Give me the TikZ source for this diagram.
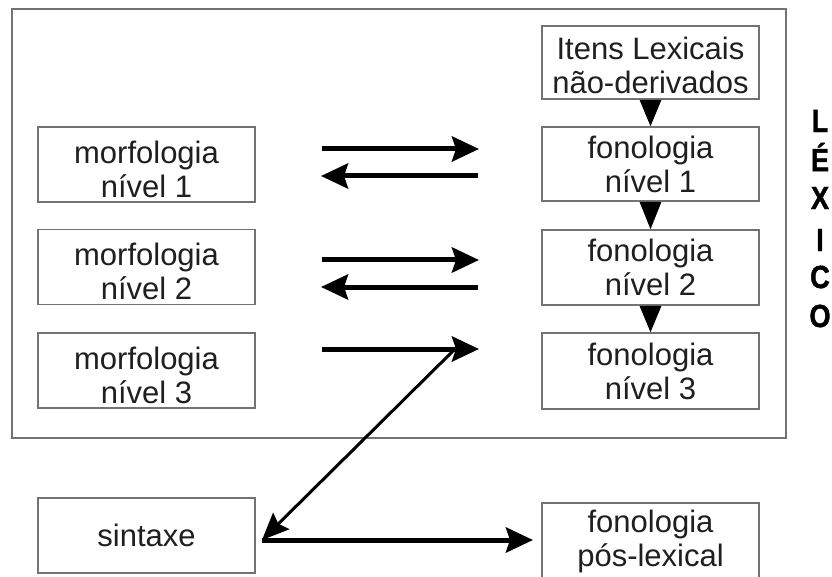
\documentclass[tikz,border=0pt]{standalone}
\usepackage{fontspec}
\setmainfont{Liberation Sans}
\newfontfamily\lexfam[BoldFeatures={FakeBold=1.5}]{Liberation Sans}
\usetikzlibrary{arrows.meta}
\newcommand{\boxfont}{\fontsize{31}{34}\selectfont}
\newcommand{\lexfont}{\lexfam\fontsize{32}{33}\selectfont\bfseries}
\newcommand{\lowstrut}{\rule{0pt}{32pt}}
\newcommand{\lexletter}[1]{\scalebox{0.85}[1]{\lexfont #1}}
\begin{document}
\begin{tikzpicture}[x=1pt,y=-1pt,
  box/.style={draw=black!55, line width=1.6pt, minimum width=217pt,
    minimum height=75pt, inner sep=0pt, align=center, font=\boxfont, text=black!88},
  frame/.style={draw=black!55, line width=1.6pt, minimum width=774pt,
    minimum height=429pt, inner sep=0pt},
  letter/.style={font=\lexfont, text=black, inner sep=0pt},
  thick arrow/.style={line width=5pt, -{Stealth[length=27pt,width=25pt,inset=4pt]}},
  thin arrow/.style={line width=3pt, -{Stealth[length=27pt,width=23pt,inset=4pt]}},
  tri/.style={fill=black}]
\useasboundingbox (0,0) rectangle (832,577);
\fill[white] (0,0) rectangle (832,577);
% frame of the lexicon
\node[frame] (lex) at (399,223.5) {};
% boxes
\node[box] (m1) at (146.5,164.5) {\lowstrut morfologia\\nível 1};
\node[box] (m2) at (146.5,267) {\lowstrut morfologia\\nível 2};
\node[box] (m3) at (146.5,370.5) {\lowstrut morfologia\\nível 3};
\node[box, minimum height=73pt] (it) at (650.5,62.5) {\rule{0pt}{29pt}Itens Lexicais\\não-derivados};
\node[box, minimum height=74pt] (f1) at (650.5,164) {fonologia\\nível 1};
\node[box] (f2) at (650.5,267.5) {fonologia\\nível 2};
\node[box, minimum height=76pt] (f3) at (650.5,371) {fonologia\\nível 3};
\node[box, minimum height=75pt] (sint) at (146.5,535.5) {sintaxe};
\node[box, minimum height=76pt] (pos) at (650.5,541) {fonologia\\pós-lexical};
% LÉXICO
\node[letter] (l1) at (820,121) {\lexletter{L}};
\node[letter] (l2) at (820,157) {\lexletter{É}};
\node[letter] (l3) at (820,198) {\lexletter{X}};
\node[letter] (l4) at (820,240) {\lexletter{I}};
\node[letter] (l5) at (820,277) {\lexletter{C}};
\node[letter] (l6) at (820,316) {\lexletter{O}};
% down triangles
\fill[tri] ([xshift=-11pt]it.south) -- ([xshift=11pt]it.south) -- (f1.north) -- cycle;
\fill[tri] ([xshift=-11pt]f1.south) -- ([xshift=11pt]f1.south) -- (f2.north) -- cycle;
\fill[tri] ([xshift=-11pt]f2.south) -- ([xshift=11pt]f2.south) -- (f3.north) -- cycle;
% free ends of the horizontal arrows
\coordinate (a1l) at (322,149); \coordinate (a1r) at (479,149);
\coordinate (b1l) at (321,176); \coordinate (b1r) at (478,176);
\coordinate (a2l) at (322,260); \coordinate (a2r) at (479,260);
\coordinate (b2l) at (321,287); \coordinate (b2r) at (478,287);
\coordinate (a3l) at (322,349); \coordinate (a3r) at (479,349);
\coordinate (zt) at (453,351);
\coordinate (zb) at (262,540);
\coordinate (pe) at (533,540);
\draw[thick arrow] (a1l) -- (a1r);
\draw[thick arrow] (b1r) -- (b1l);
\draw[thick arrow] (a2l) -- (a2r);
\draw[thick arrow] (b2r) -- (b2l);
\draw[thick arrow] (a3l) -- (a3r);
\draw[thin arrow] (zt) -- (zb);
\draw[thick arrow] (zb) -- (pe);
\end{tikzpicture}
\end{document}
